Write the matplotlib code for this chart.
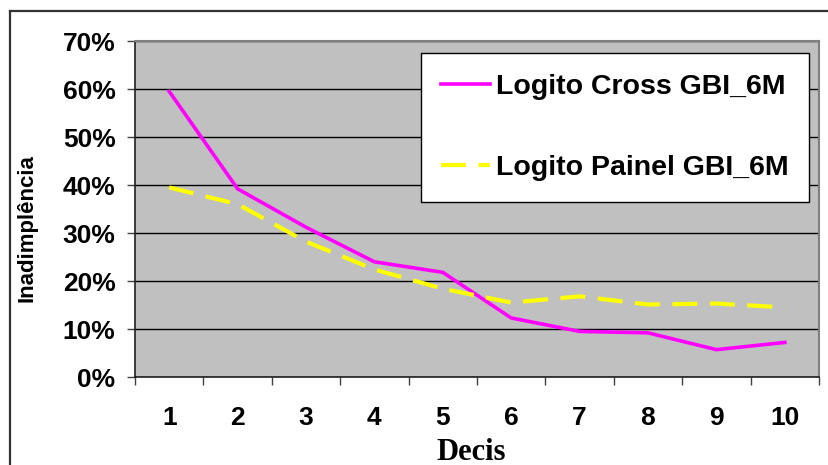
import matplotlib
matplotlib.use("Agg")
import matplotlib.pyplot as plt
from matplotlib.lines import Line2D
from matplotlib.ticker import FixedLocator, NullFormatter, FixedFormatter

# Default-rate by decile for the two logit models
decis = [1, 2, 3, 4, 5, 6, 7, 8, 9, 10]
logito_cross = [59.5, 39.2, 31.2, 24.0, 21.8, 12.3, 9.5, 9.2, 5.7, 7.2]
logito_painel = [39.5, 36.0, 28.2, 22.4, 18.4, 15.5, 16.8, 15.1, 15.3, 14.5]
y_ticks = [0, 10, 20, 30, 40, 50, 60, 70]
y_tick_labels = ["0%", "10%", "20%", "30%", "40%", "50%", "60%", "70%"]
x_tick_labels = [str(d) for d in decis]

W, H = 829, 465
fig = plt.figure(figsize=(W / 100, H / 100), dpi=100)
fig.patch.set_facecolor("white")

sans = ["Liberation Sans", "DejaVu Sans"]
serif = ["Liberation Serif", "DejaVu Serif"]

left, right, top, bottom = 135, 819, 41, 377
ax = fig.add_axes([left / W, 1 - bottom / H, (right - left) / W, (bottom - top) / H])
ax.set_facecolor("#C0C0C0")

ax.plot(decis, logito_cross, color="#FF00FF", lw=2.6, label="Logito Cross GBI_6M",
        solid_joinstyle="miter", zorder=3)
ax.plot(decis, logito_painel, color="#FFFF00", lw=3.0, dashes=(6, 3),
        label="Logito Painel GBI_6M", zorder=3)

ax.set_xlim(0.5, 10.5)
ax.set_ylim(0, 70)

tick_font = 19

# y axis
ax.set_yticks(y_ticks)
ax.set_yticklabels(y_tick_labels, fontfamily=sans, fontweight="bold", fontsize=tick_font)
ax.tick_params(axis="y", direction="out", length=6, width=1, color="#404040", pad=8)
ax.yaxis.grid(True, color="black", lw=1)
ax.set_axisbelow(True)

# x axis: ticks between categories, labels at category centres
ax.xaxis.set_major_locator(FixedLocator([i + 0.5 for i in range(0, 11)]))
ax.xaxis.set_major_formatter(NullFormatter())
ax.xaxis.set_minor_locator(FixedLocator(decis))
ax.xaxis.set_minor_formatter(FixedFormatter(x_tick_labels))
ax.tick_params(axis="x", which="major", direction="out", length=6, width=1, color="#404040")
ax.tick_params(axis="x", which="minor", length=0, pad=21)
for lbl in ax.xaxis.get_minorticklabels():
    lbl.set_fontfamily(sans)
    lbl.set_fontweight("bold")
    lbl.set_fontsize(tick_font)

for side in ("top", "right"):
    ax.spines[side].set_color("#808080")
    ax.spines[side].set_linewidth(1.5)
for side in ("left", "bottom"):
    ax.spines[side].set_color("#202020")
    ax.spines[side].set_linewidth(1.2)

ax.set_xlabel("Decis", fontfamily=serif, fontweight="bold", fontsize=22)
ax.xaxis.label.set_va("center")
ax.xaxis.set_label_coords((471 - left) / (right - left), (bottom - 452) / (bottom - top))

fig.text(27 / W, 1 - 228 / H, "Inadimplência", rotation=90, ha="center", va="center",
         fontfamily=sans, fontweight="bold", fontsize=16)

leg = ax.legend(loc="upper left",
                bbox_to_anchor=((421 - left) / (right - left), (bottom - 53) / (bottom - top)),
                frameon=True, fancybox=False, shadow=False, framealpha=1,
                prop={"family": sans, "weight": "bold", "size": 20.5},
                labelspacing=1.95, borderpad=0.72, handlelength=1.7, handletextpad=0.2,
                borderaxespad=0)
leg.get_frame().set_edgecolor("black")
leg.get_frame().set_linewidth(1)
leg.get_frame().set_facecolor("white")

# outer chart border (top and left edges)
fig.add_artist(Line2D([10 / W, 1], [1 - 11 / H, 1 - 11 / H], transform=fig.transFigure,
                      color="#333333", lw=1.6))
fig.add_artist(Line2D([10 / W, 10 / W], [0, 1 - 11 / H], transform=fig.transFigure,
                      color="#333333", lw=1.6))

fig.savefig("out.png", dpi=100)
